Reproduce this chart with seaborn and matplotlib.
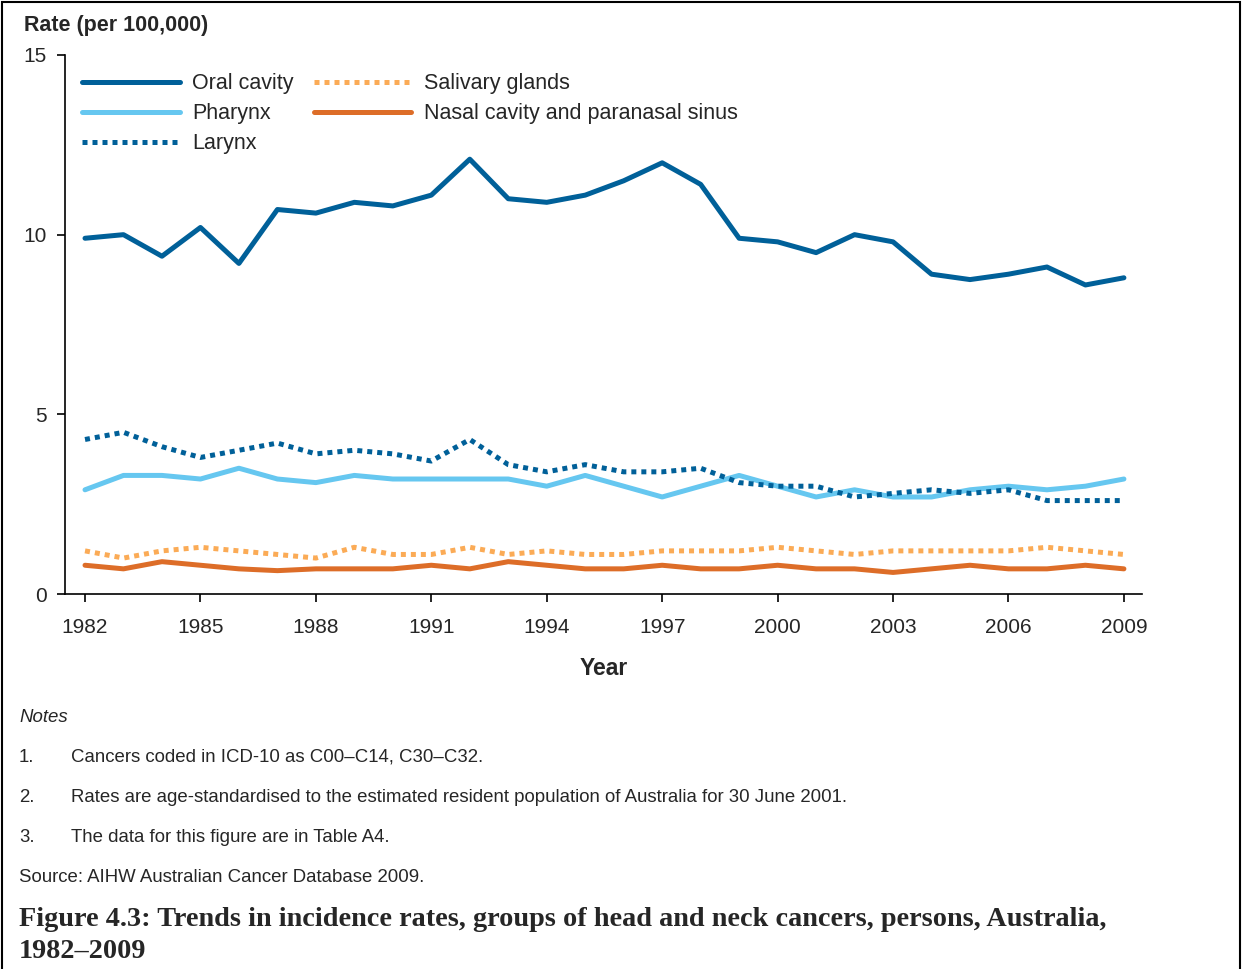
from matplotlib import pyplot as plt
from matplotlib.patches import Rectangle
import seaborn as sns
import pandas as pd

years = list(range(1982, 2010))

oral_cavity = [9.9, 10.0, 9.4, 10.2, 9.2, 10.7, 10.6, 10.9, 10.8, 11.1, 12.1, 11.0, 10.9, 11.1,
               11.5, 12.0, 11.4, 9.9, 9.8, 9.5, 10.0, 9.8, 8.9, 8.75, 8.9, 9.1, 8.6, 8.8]
pharynx = [2.9, 3.3, 3.3, 3.2, 3.5, 3.2, 3.1, 3.3, 3.2, 3.2, 3.2, 3.2, 3.0, 3.3,
           3.0, 2.7, 3.0, 3.3, 3.0, 2.7, 2.9, 2.7, 2.7, 2.9, 3.0, 2.9, 3.0, 3.2]
larynx = [4.3, 4.5, 4.1, 3.8, 4.0, 4.2, 3.9, 4.0, 3.9, 3.7, 4.3, 3.6, 3.4, 3.6,
          3.4, 3.4, 3.5, 3.1, 3.0, 3.0, 2.7, 2.8, 2.9, 2.8, 2.9, 2.6, 2.6, 2.6]
salivary = [1.2, 1.0, 1.2, 1.3, 1.2, 1.1, 1.0, 1.3, 1.1, 1.1, 1.3, 1.1, 1.2, 1.1,
            1.1, 1.2, 1.2, 1.2, 1.3, 1.2, 1.1, 1.2, 1.2, 1.2, 1.2, 1.3, 1.2, 1.1]
nasal = [0.8, 0.7, 0.9, 0.8, 0.7, 0.65, 0.7, 0.7, 0.7, 0.8, 0.7, 0.9, 0.8, 0.7,
         0.7, 0.8, 0.7, 0.7, 0.8, 0.7, 0.7, 0.6, 0.7, 0.8, 0.7, 0.7, 0.8, 0.7]

series_names = ["Oral cavity", "Pharynx", "Larynx", "Salivary glands", "Nasal cavity and paranasal sinus"]
series_values = [oral_cavity, pharynx, larynx, salivary, nasal]
series_colors = ["#006099", "#66c7f0", "#006099", "#fbab56", "#dd6d28"]
series_styles = ["-", "-", (0, (1, 1)), (0, (1, 1)), "-"]

notes = [
    ("1.", "Cancers coded in ICD-10 as C00\u2013C14, C30\u2013C32."),
    ("2.", "Rates are age-standardised to the estimated resident population of Australia for 30 June 2001."),
    ("3.", "The data for this figure are in Table A4."),
]

sns.set_style("ticks")
plt.rcParams['font.family'] = ['Liberation Sans', 'DejaVu Sans']

fig = plt.figure(figsize=(12.42, 9.69), dpi=100)
ax = fig.add_axes([65 / 1242, 1 - 594 / 969, (1142 - 65) / 1242, (594 - 55) / 969])

for name, vals, col, ls in zip(series_names, series_values, series_colors, series_styles):
	df = pd.DataFrame({"Year": years, "Rate": vals})
	sns.lineplot(data=df, x="Year", y="Rate", ax=ax, color=col, linewidth=3.6,
				 linestyle=ls, label=name)

ax.set_xlim(1981.48, 2009.47)
ax.set_ylim(0, 15)
ax.set_xticks(range(1982, 2010, 3))
ax.set_yticks([0, 5, 10, 15])
ax.tick_params(axis="both", labelsize=15, length=6, width=1.2, color="black")
ax.tick_params(axis="x", pad=11)
ax.tick_params(axis="y", pad=7)
sns.despine(ax=ax)
for s in ["left", "bottom"]:
	ax.spines[s].set_linewidth(1.2)
	ax.spines[s].set_color("black")
ax.set_ylabel("")
ax.set_xlabel("Year", fontsize=16.5, fontweight="bold", labelpad=15)

leg = ax.legend(ncol=2, loc="upper left", bbox_to_anchor=(0.0, 0.998), frameon=False,
				fontsize=15.5, handlelength=4.55, handletextpad=0.56, columnspacing=0.93,
				labelspacing=0.42, borderaxespad=0.39)

fig.text(24 / 1242, 1 - 25 / 969, "Rate (per 100,000)", fontsize=15.5, fontweight="bold",
		 va="center", ha="left")

fig.text(19 / 1242, 1 - 717 / 969, "Notes", fontsize=13.4, style="italic", va="center")
for i, (num, txt) in enumerate(notes):
	y = 1 - (757 + 40 * i) / 969
	fig.text(19 / 1242, y, num, fontsize=13.4, va="center")
	fig.text(71 / 1242, y, txt, fontsize=13.4, va="center")
fig.text(19 / 1242, 1 - 877 / 969, "Source: AIHW Australian Cancer Database 2009.", fontsize=13.4, va="center")

fig.text(19 / 1242, 1 - 919 / 969,
		 "Figure 4.3: Trends in incidence rates, groups of head and neck cancers, persons, Australia,",
		 fontsize=20.3, fontweight="bold", family=["Liberation Serif", "DejaVu Serif"], va="center")
fig.text(19 / 1242, 1 - 951 / 969, "1982\u20132009",
		 fontsize=20.3, fontweight="bold", family=["Liberation Serif", "DejaVu Serif"], va="center")

fig.patches.append(Rectangle((2 / 1242, -0.01), 1238 / 1242, 1 - 2 / 969 + 0.01, transform=fig.transFigure,
							 fill=False, edgecolor="black", linewidth=1.5))

plt.savefig("out.png", dpi=100)
